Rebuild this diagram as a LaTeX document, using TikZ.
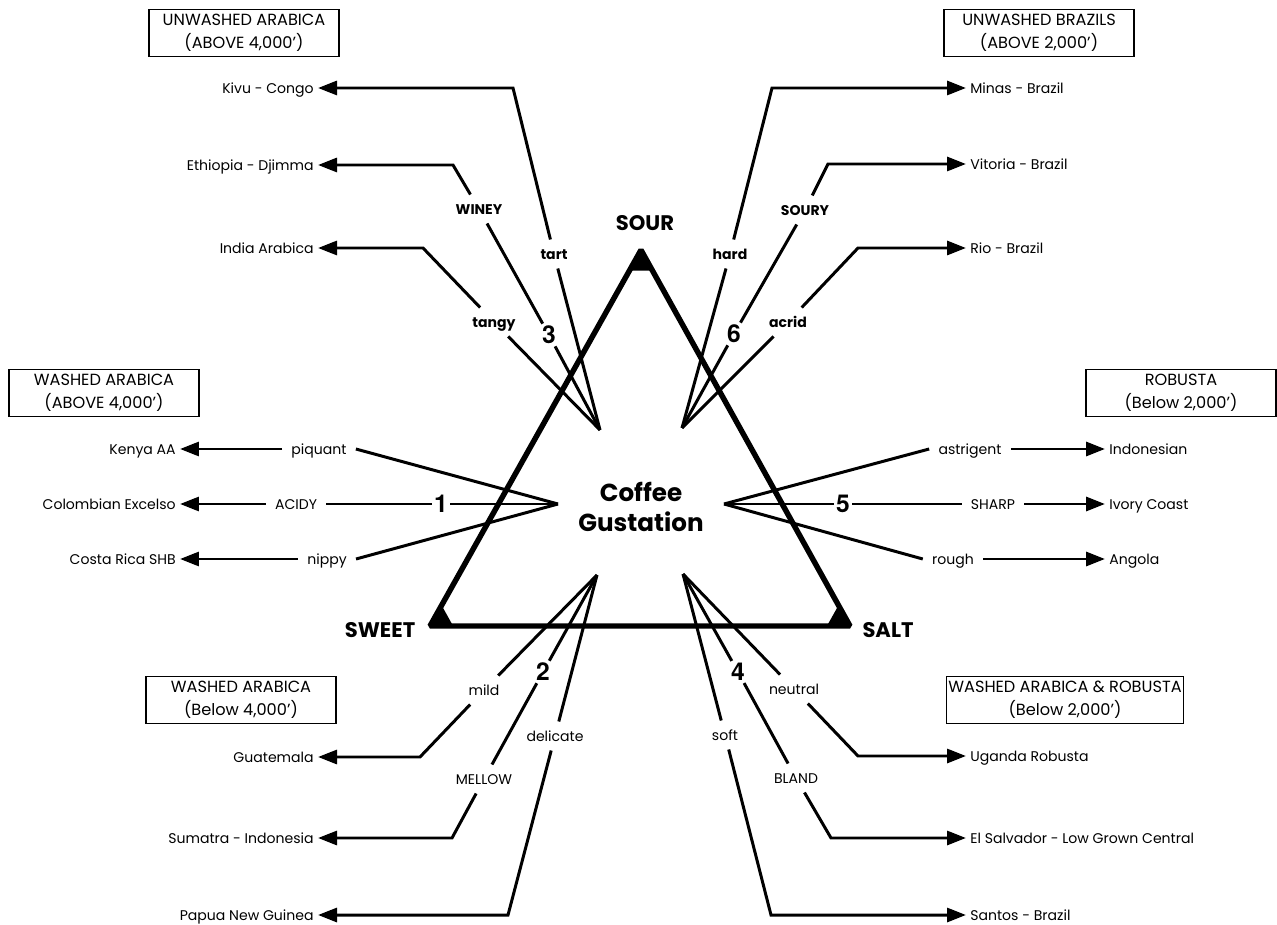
\documentclass[tikz,border=0pt]{standalone}
\usepackage{fontspec}
\setmainfont{Poppins}
\newfontfamily\numfont{TeX Gyre Heros}
\usetikzlibrary{arrows.meta,calc}

\tikzset{
  conn/.style={line width=1.7pt},
  arr/.style={conn,-{Triangle[length=0.38cm,width=0.28cm]}},
  lbl/.style={font=\fontsize{8}{9}\selectfont, inner xsep=0.18cm, inner ysep=0.1cm, text height=1.5ex, text depth=0.4ex},
  blbl/.style={lbl, font=\fontsize{8}{9}\selectfont\bfseries},
  num/.style={font=\fontsize{14}{14}\selectfont\numfont\bfseries, inner sep=0.04cm},
  bean/.style={font=\fontsize{8}{9}\selectfont, inner xsep=0.08cm, text height=1.5ex, text depth=0.4ex},
  region/.style={draw, line width=0.8pt, align=center, minimum width=3.8cm, minimum height=0.94cm, inner sep=1pt, font=\fontsize{9.2}{13}\selectfont},
  taste/.style={font=\fontsize{12}{12}\selectfont\bfseries},
}

\begin{document}
\begin{tikzpicture}[x=0.02cm,y=-0.02cm]
\useasboundingbox (0,0) rectangle (1277,925);

% taste triangle
\coordinate (sour) at (641,250);
\coordinate (sweet) at (430,626);
\coordinate (salt) at (850,626);
\draw[line width=3.1pt, line join=bevel] (sour) -- (sweet) -- (salt) -- cycle;
\fill (sour) -- ($(sour)!0.055!(sweet)$) -- ($(sour)!0.055!(salt)$) -- cycle;
\fill (sweet) -- ($(sweet)!0.055!(sour)$) -- ($(sweet)!0.055!(salt)$) -- cycle;
\fill (salt) -- ($(salt)!0.055!(sour)$) -- ($(salt)!0.055!(sweet)$) -- cycle;
\node[taste] (soursign) at (645,223) {SOUR};
\node[taste] (sweetsign) at (380,630) {SWEET};
\node[taste] (saltsign) at (888,630) {SALT};
\node[font=\fontsize{14}{17}\selectfont\bfseries, align=center] (title) at (641,507) {Coffee\\Gustation};

% region boxes
\node[region] (ua) at (244,33) {UNWASHED ARABICA\\(ABOVE 4,000’)};
\node[region] (ub) at (1039,33) {UNWASHED BRAZILS\\(ABOVE 2,000’)};
\node[region] (wa) at (104,393) {WASHED ARABICA\\(ABOVE 4,000’)};
\node[region] (rob) at (1181,393) {ROBUSTA\\(Below 2,000’)};
\node[region] (wab) at (241,700) {WASHED ARABICA\\(Below 4,000’)};
\node[region] (war) at (1065,700) {WASHED ARABICA \& ROBUSTA\\(Below 2,000’)};

% 3 - top left
\coordinate (c3) at (600,430);
\node[num] (n3) at (549,335) {3};
\node[blbl] (tart) at (554,254) {tart};
\node[blbl] (winey) at (479,209) {WINEY};
\node[blbl] (tangy) at (494,322) {tangy};
\node[bean,anchor=east] (kivu) at (318,88) {Kivu - Congo};
\node[bean,anchor=east] (djimma) at (318,165) {Ethiopia - Djimma};
\node[bean,anchor=east] (india) at (318,248) {India Arabica};
\draw[conn] (c3) -- (tart);
\draw[arr] (tart) -- (513,88) -- (kivu);
\draw[conn] (c3) -- (n3) -- (winey);
\draw[arr] (winey) -- (453,165) -- (djimma);
\draw[conn] (c3) -- (tangy);
\draw[arr] (tangy) -- (423,248) -- (india);

% 6 - top right
\coordinate (c6) at (682,428);
\node[num] (n6) at (734,334) {6};
\node[blbl] (hard) at (730,254) {hard};
\node[blbl] (soury) at (805,210) {SOURY};
\node[blbl] (acrid) at (788,322) {acrid};
\node[bean,anchor=west] (minas) at (966,88) {Minas - Brazil};
\node[bean,anchor=west] (vitoria) at (966,164) {Vitoria - Brazil};
\node[bean,anchor=west] (rio) at (966,248) {Rio - Brazil};
\draw[conn] (c6) -- (hard);
\draw[arr] (hard) -- (772,88) -- (minas);
\draw[conn] (c6) -- (n6) -- (soury);
\draw[arr] (soury) -- (828,164) -- (vitoria);
\draw[conn] (c6) -- (acrid);
\draw[arr] (acrid) -- (858,248) -- (rio);

% 1 - left
\coordinate (c1) at (558,504);
\node[num] (n1) at (441,504) {1};
\node[lbl] (piquant) at (319,449) {piquant};
\node[lbl] (acidy) at (296,504) {ACIDY};
\node[lbl] (nippy) at (327,559) {nippy};
\node[bean,anchor=east] (kenya) at (180,449) {Kenya AA};
\node[bean,anchor=east] (colombia) at (180,504) {Colombian Excelso};
\node[bean,anchor=east] (costa) at (180,559) {Costa Rica SHB};
\draw[conn] (c1) -- (piquant.east);
\draw[arr] (piquant) -- (kenya);
\draw[conn] (c1) -- (n1) -- (acidy);
\draw[arr] (acidy) -- (colombia);
\draw[conn] (c1) -- (nippy.east);
\draw[arr] (nippy) -- (costa);

% 5 - right
\coordinate (c5) at (724,504);
\node[num] (n5) at (843,504) {5};
\node[lbl] (astrigent) at (970,449) {astrigent};
\node[lbl] (sharp) at (993,504) {SHARP};
\node[lbl] (rough) at (953,559) {rough};
\node[bean,anchor=west] (indonesian) at (1105,449) {Indonesian};
\node[bean,anchor=west] (ivory) at (1105,504) {Ivory Coast};
\node[bean,anchor=west] (angola) at (1105,559) {Angola};
\draw[conn] (c5) -- (astrigent.west);
\draw[arr] (astrigent) -- (indonesian);
\draw[conn] (c5) -- (n5) -- (sharp);
\draw[arr] (sharp) -- (ivory);
\draw[conn] (c5) -- (rough.west);
\draw[arr] (rough) -- (angola);

% 2 - bottom left
\coordinate (c2) at (597,575);
\node[num] (n2) at (543,672) {2};
\node[lbl] (mild) at (484,690) {mild};
\node[lbl] (mellow) at (484,779) {MELLOW};
\node[lbl] (delicate) at (555,736) {delicate};
\node[bean,anchor=east] (guatemala) at (318,757) {Guatemala};
\node[bean,anchor=east] (sumatra) at (318,838) {Sumatra - Indonesia};
\node[bean,anchor=east] (papua) at (318,915) {Papua New Guinea};
\draw[conn] (c2) -- (mild);
\draw[arr] (mild) -- (420,757) -- (guatemala);
\draw[conn] (c2) -- (n2) -- (mellow);
\draw[arr] (mellow) -- (452,838) -- (sumatra);
\draw[conn] (c2) -- (delicate);
\draw[arr] (delicate) -- (508,915) -- (papua);

% 4 - bottom right
\coordinate (c4) at (683,574);
\node[num] (n4) at (738,672) {4};
\node[lbl] (neutral) at (794,689) {neutral};
\node[lbl] (bland) at (796,778) {BLAND};
\node[lbl] (soft) at (725,735) {soft};
\node[bean,anchor=west] (uganda) at (966,756) {Uganda Robusta};
\node[bean,anchor=west] (salvador) at (966,838) {El Salvador - Low Grown Central};
\node[bean,anchor=west] (santos) at (966,915) {Santos - Brazil};
\draw[conn] (c4) -- (neutral);
\draw[arr] (neutral) -- (858,756) -- (uganda);
\draw[conn] (c4) -- (n4) -- (bland);
\draw[arr] (bland) -- (831,838) -- (salvador);
\draw[conn] (c4) -- (soft);
\draw[arr] (soft) -- (771,915) -- (santos);
\end{tikzpicture}
\end{document}
